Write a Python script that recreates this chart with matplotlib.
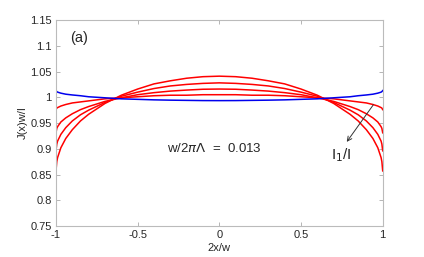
"""Current distribution J(x)w/I across strip width, panel (a)."""
import matplotlib
matplotlib.use('Agg')
import matplotlib.pyplot as plt

plt.rcParams['font.family'] = ['Liberation Sans', 'DejaVu Sans']

# positions across the strip (2x/w)
x_pos = [-1.0, -0.995, -0.99, -0.97, -0.94, -0.9, -0.85, -0.8, -0.7, -0.6, -0.5, -0.4,
         -0.3, -0.2, -0.1, 0.0, 0.1, 0.2, 0.3, 0.4, 0.5, 0.6, 0.7, 0.8, 0.85, 0.9,
         0.94, 0.97, 0.99, 0.995, 1.0]

# red curves
red_1 = [0.976, 0.979, 0.980, 0.983, 0.986, 0.989, 0.991, 0.993, 0.997, 0.999, 1.001, 1.003,
         1.004, 1.004, 1.005, 1.005, 1.005, 1.004, 1.004, 1.003, 1.001, 0.999, 0.997, 0.993,
         0.991, 0.989, 0.986, 0.983, 0.980, 0.979, 0.976]
red_2 = [0.931, 0.9395, 0.943, 0.952, 0.960, 0.968, 0.976, 0.982, 0.992, 0.999, 1.005, 1.009,
         1.012, 1.014, 1.0156, 1.016, 1.0156, 1.014, 1.012, 1.009, 1.005, 0.999, 0.992, 0.982,
         0.976, 0.968, 0.960, 0.952, 0.943, 0.9395, 0.931]
red_3 = [0.896, 0.909, 0.915, 0.928, 0.941, 0.954, 0.966, 0.975, 0.990, 1.002, 1.010, 1.017,
         1.022, 1.025, 1.027, 1.028, 1.027, 1.025, 1.022, 1.017, 1.010, 1.002, 0.990, 0.975,
         0.966, 0.954, 0.941, 0.928, 0.915, 0.909, 0.896]
red_4 = [0.857, 0.875, 0.883, 0.902, 0.920, 0.937, 0.954, 0.967, 0.988, 1.004, 1.016, 1.026,
         1.032, 1.037, 1.040, 1.041, 1.040, 1.037, 1.032, 1.026, 1.016, 1.004, 0.988, 0.967,
         0.954, 0.937, 0.920, 0.902, 0.883, 0.875, 0.857]
red_curves = [red_1, red_2, red_3, red_4]

# blue curve
blue = [1.013, 1.011, 1.010, 1.008, 1.006, 1.0045, 1.003, 1.001, 0.999, 0.997, 0.996, 0.995,
        0.9944, 0.994, 0.9936, 0.9935, 0.9936, 0.994, 0.9944, 0.995, 0.996, 0.997, 0.999, 1.001,
        1.003, 1.0045, 1.006, 1.008, 1.010, 1.011, 1.013]

x_ticks = [-1, -0.5, 0, 0.5, 1]
x_ticklabels = ['-1', '-0.5', '0', '0.5', '1']
y_ticks = [0.75, 0.8, 0.85, 0.9, 0.95, 1.0, 1.05, 1.1, 1.15]
y_ticklabels = ['0.75', '0.8', '0.85', '0.9', '0.95', '1', '1.05', '1.1', '1.15']

fig = plt.figure(figsize=(4.24, 2.57), dpi=100)
ax = fig.add_axes([0.132, 0.1206, 0.7706, 0.8014])

for ys in red_curves:
    ax.plot(x_pos, ys, color='#ff0000', linewidth=1.1)
ax.plot(x_pos, blue, color='#0000ee', linewidth=1.1)

ax.set_xlim(-1, 1)
ax.set_ylim(0.75, 1.15)
ax.set_xticks(x_ticks)
ax.set_xticklabels(x_ticklabels)
ax.set_yticks(y_ticks)
ax.set_yticklabels(y_ticklabels)
ax.tick_params(direction='in', length=3, width=0.6, color='#aaaaaa',
               labelsize=8, labelcolor='#262626', top=True, right=True, pad=3)
for sp in ax.spines.values():
    sp.set_color('#bbbbbb')
    sp.set_linewidth(0.8)

ax.set_xlabel('2x/w', fontsize=8, color='#262626', labelpad=2)
ax.set_ylabel('J(x)w/I', fontsize=8, color='#262626', labelpad=2)

ax.text(-0.915, 1.115, '(a)', fontsize=10.5, color='#262626', va='center', ha='left')
ax.text(-0.32, 0.900, r'w/2$\pi\Lambda$  =  0.013', fontsize=9.5, color='#262626',
        va='center', ha='left')
ax.annotate('', xy=(0.77, 0.909), xytext=(0.953, 0.990),
            arrowprops=dict(arrowstyle='->', color='#333333', lw=0.7,
                            mutation_scale=8))
ax.text(0.745, 0.887, r'I$_1$/I', fontsize=11, color='#262626', va='center', ha='center')

fig.savefig('out.png', dpi=100)
